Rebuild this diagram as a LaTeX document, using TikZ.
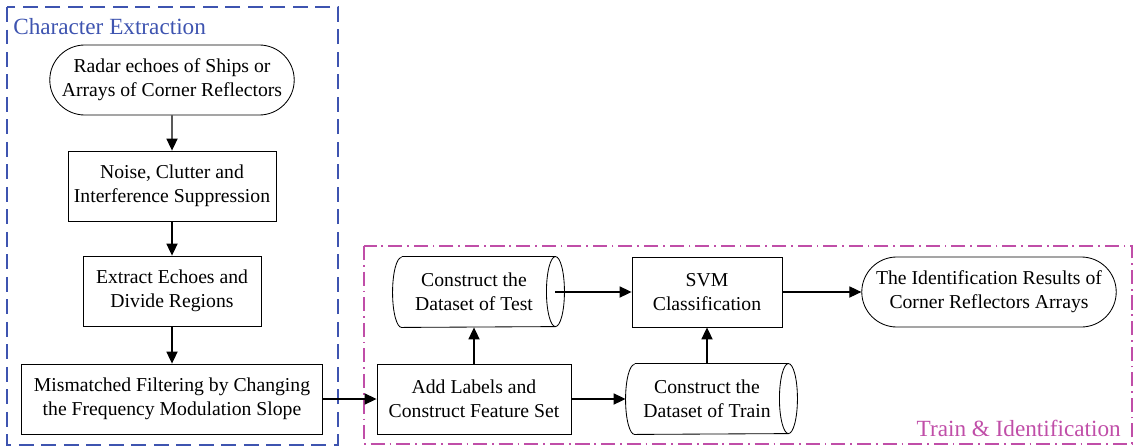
\documentclass[tikz,border=0pt]{standalone}
\usepackage{fontspec}
\setmainfont{Liberation Serif}
\usetikzlibrary{positioning}
\usetikzlibrary{arrows.meta}
\usetikzlibrary{shapes.misc}
\definecolor{extblue}{RGB}{62,84,176}
\definecolor{trainpink}{RGB}{192,78,168}
\tikzset {
  % plain process box
  proc/.style = {draw, line width=0.6pt, minimum height=1.75cm, inner sep=2pt,
    align=center, font=\fontsize{14}{17}\selectfont},
  % start and end of the flow
  term/.style = {proc, rounded rectangle},
  % stored data sets, outline drawn by \drum
  data/.style = {proc, draw=none, minimum width=4.05cm},
  % connectors
  flow/.style = {-{Triangle[length=0.3cm, width=0.28cm]}, line width=0.8pt},
  % the two stage frames
  stageA/.style = {extblue, line width=1.2pt, dash pattern=on 10.5pt off 5.5pt},
  stageB/.style = {trainpink, line width=1.2pt, dash pattern=on 10pt off 3.5pt on 1.2pt off 3.5pt},
  stagelabel/.style = {font=\fontsize{16.5}{19}\selectfont},
}
% lying drum round a data node, its end ellipse centred on the east side
\newcommand{\drum}[1]{%
  \draw[line width=0.6pt] ([xshift=0.225cm]#1.north west) -- (#1.north east)
    arc[start angle=90, end angle=-90, x radius=0.225cm, y radius=0.875cm]
    -- ([xshift=0.225cm]#1.south west)
    arc[start angle=270, end angle=90, x radius=0.225cm, y radius=0.875cm]
    (#1.north east)
    arc[start angle=90, end angle=270, x radius=0.225cm, y radius=0.875cm];}

\begin{document}
\begin{tikzpicture}[x=0.025cm, y=-0.025cm]
        \useasboundingbox (0,0) rectangle (1140,448);

        % frames
        \draw[stageA] (7,7) rectangle (338,445);
        \node[stagelabel, text=extblue, anchor=west, inner sep=0pt] (extlabel) at (13,27) {Character Extraction};
        \draw[stageB] (364,246) rectangle (1132,444);
        \node[stagelabel, text=trainpink, anchor=east, inner sep=0pt] (trainlabel) at (1121,428) {Train \& Identification};

        % character extraction
        \node[term, minimum width=6.25cm] (radar) at (172,80) {Radar echoes of Ships or\\Arrays of Corner Reflectors};
        \node[proc, minimum width=5.2cm] (noise) at (172,186) {Noise, Clutter and\\Interference Suppression};
        \node[proc, minimum width=4.45cm] (extract) at (172,291) {Extract Echoes and\\Divide Regions};
        \node[proc, minimum width=7.525cm] (mismatch) at (172,399) {Mismatched Filtering by Changing\\the Frequency Modulation Slope};

        % train and identification
        \node[proc, minimum width=4.85cm] (addlabels) at (474,399) {Add Labels and\\Construct Feature Set};
        \node[data] (test) at (474,292) {Construct the\\Dataset of Test};
        \node[data] (train) at (707,399) {Construct the\\Dataset of Train};
        \drum{test}
        \drum{train}
        \node[proc, minimum width=3.75cm] (svm) at (707,292) {SVM\\Classification};
        \node[term, minimum width=6.5cm] (result) at (989,292) {The Identification Results of\\Corner Reflectors Arrays};

        \draw [flow] (radar) -- (noise);
        \draw [flow] (noise) -- (extract);
        \draw [flow] (extract) -- (mismatch);
        \draw [flow] (mismatch) -- (addlabels);
        \draw [flow] (addlabels) -- (test);
        \draw [flow] (addlabels) -- (train);
        \draw [flow] (test.east) -- (svm);
        \draw [flow] (train) -- (svm);
        \draw [flow] (svm) -- (result);
      \end{tikzpicture}
\end{document}
